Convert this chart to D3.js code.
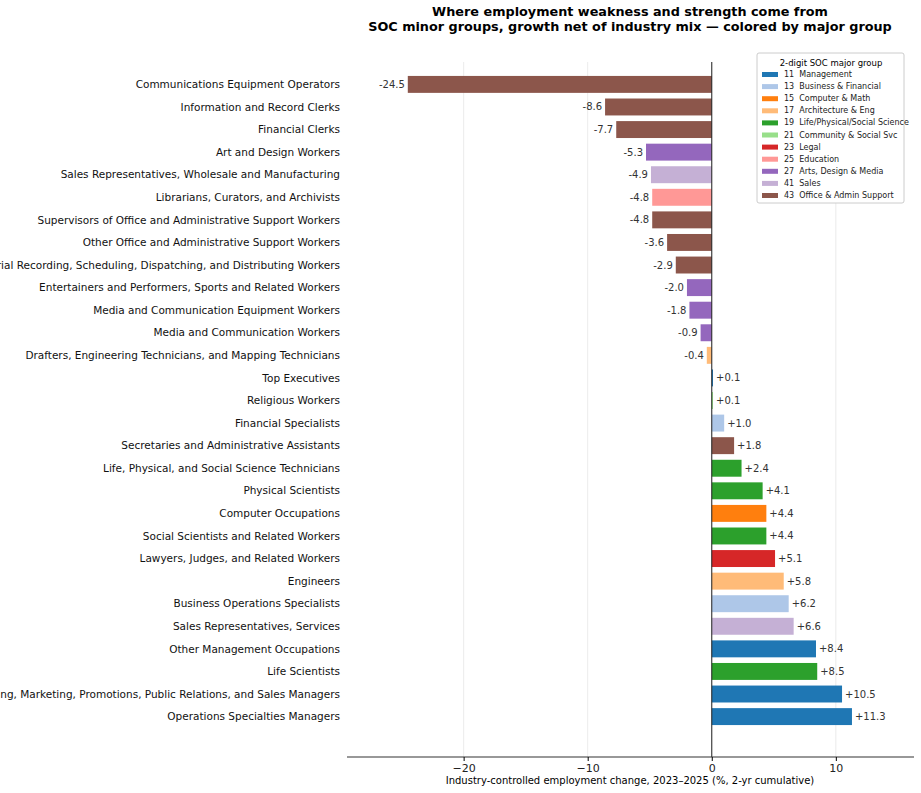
<!DOCTYPE html>
<html><head><meta charset="utf-8">
<script src="https://cdn.jsdelivr.net/npm/d3@7"></script>
<style>body{margin:0;background:#fff;font-family:"DejaVu Sans",sans-serif;}</style>
</head><body><svg id="c" width="921" height="793"></svg>
<script>
// data
var occupations = ["Communications Equipment Operators","Information and Record Clerks","Financial Clerks","Art and Design Workers","Sales Representatives, Wholesale and Manufacturing","Librarians, Curators, and Archivists","Supervisors of Office and Administrative Support Workers","Other Office and Administrative Support Workers","Material Recording, Scheduling, Dispatching, and Distributing Workers","Entertainers and Performers, Sports and Related Workers","Media and Communication Equipment Workers","Media and Communication Workers","Drafters, Engineering Technicians, and Mapping Technicians","Top Executives","Religious Workers","Financial Specialists","Secretaries and Administrative Assistants","Life, Physical, and Social Science Technicians","Physical Scientists","Computer Occupations","Social Scientists and Related Workers","Lawyers, Judges, and Related Workers","Engineers","Business Operations Specialists","Sales Representatives, Services","Other Management Occupations","Life Scientists","Advertising, Marketing, Promotions, Public Relations, and Sales Managers","Operations Specialties Managers"];
var majorGroup = ["43","43","43","27","41","25","43","43","43","27","27","27","17","11","21","13","43","19","19","15","19","23","17","13","41","11","19","11","11"];
var change = [-24.5,-8.6,-7.7,-5.3,-4.9,-4.8,-4.8,-3.6,-2.9,-2.0,-1.8,-0.9,-0.4,0.1,0.1,1.0,1.8,2.4,4.1,4.4,4.4,5.1,5.8,6.2,6.6,8.4,8.5,10.5,11.3];
var groupCodes = ["11","13","15","17","19","21","23","25","27","41","43"];
var groupNames = ["Management","Business & Financial","Computer & Math","Architecture & Eng","Life/Physical/Social Science","Community & Social Svc","Legal","Education","Arts, Design & Media","Sales","Office & Admin Support"];
var groupColors = ["#1f77b4","#aec7e8","#ff7f0e","#ffbb78","#2ca02c","#98df8a","#d62728","#ff9896","#9467bd","#c5b0d5","#8c564b"];
var xTicks = [-20,-10,0,10];

var svg = d3.select("#c");
var plotL = 347, plotR = 914, plotT = 62, plotB = 757;
var x = d3.scaleLinear().domain([-29.4,16.3]).range([plotL,plotR]);
var y = d3.scaleBand().domain(occupations).range([plotT+11,plotB-29]).paddingInner(0.25).paddingOuter(0.13);
var color = d3.scaleOrdinal().domain(groupCodes).range(groupColors);

// grid
svg.append("g").selectAll("line").data(xTicks).join("line")
  .attr("x1",d=>x(d)).attr("x2",d=>x(d)).attr("y1",plotT).attr("y2",plotB)
  .attr("stroke","#e6e6e6").attr("stroke-width",0.8);

svg.append("g").selectAll("rect").data(occupations).join("rect")
  .attr("x",(d,i)=>x(Math.min(0,change[i])))
  .attr("width",(d,i)=>Math.abs(x(change[i])-x(0)))
  .attr("y",d=>y(d)).attr("height",y.bandwidth())
  .attr("fill",(d,i)=>color(majorGroup[i]));

svg.append("line").attr("x1",x(0)).attr("x2",x(0)).attr("y1",plotT).attr("y2",plotB)
  .attr("stroke","#222").attr("stroke-width",1);

// value labels
svg.append("g").selectAll("text").data(occupations).join("text")
  .attr("x",(d,i)=>change[i]<0 ? x(change[i])-3 : x(change[i])+3)
  .attr("y",d=>y(d)+y.bandwidth()/2).attr("dy","0.35em")
  .attr("text-anchor",(d,i)=>change[i]<0?"end":"start")
  .attr("font-size",10).attr("fill","#333")
  .text((d,i)=>(change[i]>0?"+":"")+change[i].toFixed(1));

// category labels
svg.append("g").selectAll("text").data(occupations).join("text")
  .attr("x",340).attr("y",d=>y(d)+y.bandwidth()/2).attr("dy","0.35em")
  .attr("text-anchor","end").attr("font-size",10.5).attr("fill","#111").text(d=>d);

// x axis
var ax = svg.append("g").attr("transform","translate(0,"+plotB+")")
  .call(d3.axisBottom(x).tickValues(xTicks).tickSize(4).tickFormat(d=>d<0?"\u2212"+(-d):d));
ax.select(".domain").attr("stroke","#333").attr("stroke-width",1.2).attr("d","M"+plotL+",0H"+plotR);
ax.selectAll("text").attr("font-size",11).attr("fill","#222").attr("font-family","DejaVu Sans");
svg.append("text").attr("x",630).attr("y",784).attr("text-anchor","middle")
  .attr("font-size",10).text("Industry-controlled employment change, 2023\u20132025 (%, 2-yr cumulative)");

// title
svg.append("text").attr("x",630).attr("y",16).attr("text-anchor","middle").attr("font-size",12.8).attr("font-weight","bold")
  .text("Where employment weakness and strength come from");
svg.append("text").attr("x",630).attr("y",31).attr("text-anchor","middle").attr("font-size",12.8).attr("font-weight","bold")
  .text("SOC minor groups, growth net of industry mix \u2014 colored by major group");

// legend
var lg = svg.append("g").attr("transform","translate(757,53)");
lg.append("rect").attr("width",147).attr("height",150).attr("fill","#fff").attr("stroke","#ccc").attr("rx",2);
lg.append("text").attr("x",74).attr("y",13).attr("text-anchor","middle").attr("font-size",8.5).text("2-digit SOC major group");
var li = lg.selectAll("g.i").data(groupCodes).join("g").attr("class","i")
  .attr("transform",(d,i)=>"translate(5,"+(20+i*12.1)+")");
li.append("rect").attr("width",16).attr("height",5).attr("y",-1).attr("fill",d=>color(d));
li.append("text").attr("x",22).attr("y",4).attr("font-size",8).attr("fill","#222")
  .text((d,i)=>d+"  "+groupNames[i]).attr("xml:space","preserve");
</script></body></html>
